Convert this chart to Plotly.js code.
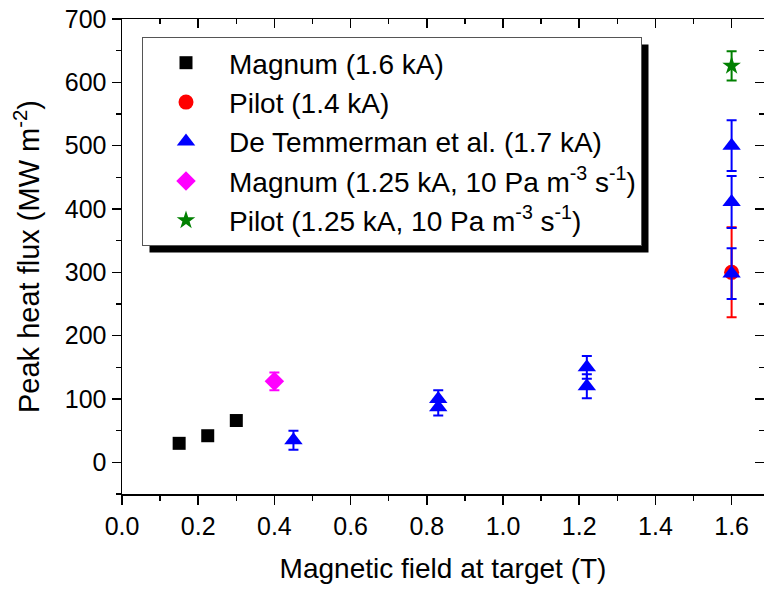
<!DOCTYPE html>
<html>
<head>
<meta charset="utf-8">
<script src="https://cdn.plot.ly/plotly-3.0.1.min.js"></script>
<style>html,body{margin:0;padding:0;background:#fff}#chart{width:764px;height:592px}</style>
</head>
<body>
<div id="chart"></div>
<script>
// Magnum (1.6 kA)
const magnumX = [0.15, 0.225, 0.30];
const magnumY = [30, 42, 66];
const magnumErr = [3, 3, 3];
// Pilot (1.4 kA)
const pilotX = [1.6];
const pilotY = [300];
const pilotErr = [71];
// De Temmerman et al. (1.7 kA)
const dtX = [0.45, 0.83, 0.83, 1.22, 1.22, 1.6, 1.6, 1.6];
const dtY = [35, 100, 87, 150, 120, 500, 411, 298];
const dtErr = [15, 14, 13, 18, 19, 40, 41, 40];
// Magnum (1.25 kA, 10 Pa m-3 s-1)
const magnum2X = [0.40];
const magnum2Y = [128];
const magnum2Err = [14];
// Pilot (1.25 kA, 10 Pa m-3 s-1)
const pilot2X = [1.6];
const pilot2Y = [626];
const pilot2Err = [23];

const names = [
  'Magnum (1.6 kA)',
  'Pilot (1.4 kA)',
  'De Temmerman et al. (1.7 kA)',
  'Magnum (1.25 kA, 10 Pa m<sup>-3</sup> s<sup>-1</sup>)',
  'Pilot (1.25 kA, 10 Pa m<sup>-3</sup> s<sup>-1</sup>)'
];

const FONT = 'Arial, "Liberation Sans", sans-serif';

function mk(x, y, err, name, color, symbol, size, group) {
  return {
    type: 'scatter', mode: 'markers', x: x, y: y, name: name,
    legendgroup: group,
    marker: {color: color, symbol: symbol, size: size, line: {width: 0}},
    error_y: {type: 'data', array: err, visible: true, color: color, thickness: 2, width: 5},
    hoverinfo: 'x+y'
  };
}

const data = [
  mk(magnumX, magnumY, magnumErr, names[0], '#000000', 'square', 13, 'g1'),
  mk(pilotX, pilotY, pilotErr, names[1], '#ff0000', 'circle', 15, 'g2'),
  mk(dtX, dtY, dtErr, names[2], '#0000ff', 'triangle-up', 16, 'g3'),
  mk(magnum2X, magnum2Y, magnum2Err, names[3], '#ff00ff', 'diamond', 15, 'g4'),
  mk(pilot2X, pilot2Y, pilot2Err, names[4], '#008000', 'star', 14, 'g5'),
  {type: 'scatter', mode: 'markers', x: [], y: [], xaxis: 'x2', yaxis: 'y2', showlegend: false, hoverinfo: 'skip'}
];

const L = 122, R = 0, T = 19, B = 98;
const W = 764, H = 592;
const pw = W - L - R, ph = H - T - B;
function px2x(p) { return (p - L) / pw; }
function py2y(p) { return (H - B - p) / ph; }

const axisCommon = {
  showline: true, linecolor: '#000', linewidth: 1.5, zeroline: false, showgrid: false,
  tickcolor: '#000', tickwidth: 1.5, ticklen: 9,
  tickfont: {family: FONT, size: 25, color: '#000'}
};

const layout = {
  width: W, height: H,
  margin: {l: L, r: R, t: T, b: B, pad: 0},
  paper_bgcolor: '#fff', plot_bgcolor: '#fff',
  font: {family: FONT, size: 25, color: '#000'},
  showlegend: true,
  xaxis: Object.assign({}, axisCommon, {
    range: [0, 1.685], dtick: 0.2, tick0: 0, tickformat: '.1f', ticks: 'outside',
    minor: {dtick: 0.1, ticks: 'outside', ticklen: 5, tickwidth: 1.5, tickcolor: '#000'},
    title: {text: 'Magnetic field at target (T)', font: {family: FONT, size: 28, color: '#000'}, standoff: 20}
  }),
  yaxis: Object.assign({}, axisCommon, {
    range: [-50, 700], dtick: 100, tick0: 0, ticks: 'outside',
    minor: {dtick: 50, ticks: 'outside', ticklen: 5, tickwidth: 1.5, tickcolor: '#000'},
    title: {text: 'Peak heat flux (MW m<sup>-2</sup>)', font: {family: FONT, size: 29, color: '#000'}, standoff: 16}
  }),
  xaxis2: Object.assign({}, axisCommon, {
    overlaying: 'x', side: 'top', anchor: 'y2', range: [0, 1.685], dtick: 0.2, tick0: 0,
    ticks: 'inside', showticklabels: false,
    minor: {dtick: 0.1, ticks: 'inside', ticklen: 5, tickwidth: 1.5, tickcolor: '#000'}
  }),
  yaxis2: Object.assign({}, axisCommon, {
    overlaying: 'y', side: 'right', anchor: 'x2', range: [-50, 700], dtick: 100, tick0: 0,
    ticks: 'inside', showticklabels: false,
    minor: {dtick: 50, ticks: 'inside', ticklen: 5, tickwidth: 1.5, tickcolor: '#000'}
  }),
  legend: {
    x: px2x(142), y: py2y(37), xanchor: 'left', yanchor: 'top',
    bgcolor: '#ffffff', bordercolor: '#555', borderwidth: 1,
    font: {family: FONT, size: 28, color: '#000'},
    itemwidth: 76, tracegroupgap: 0, traceorder: 'normal'
  },
  shapes: [
    {type: 'rect', xref: 'paper', yref: 'paper', x0: px2x(149), x1: px2x(673), y0: py2y(247), y1: py2y(48),
     fillcolor: '#000', line: {width: 0}, layer: 'above'}
  ]
};

Plotly.newPlot('chart', data, layout, {displayModeBar: false, staticPlot: true}).then(function (gd) {
  // align the drop shadow with the legend box actually drawn
  var bg = gd.querySelector('.legend .bg');
  if (!bg) return;
  var r = bg.getBoundingClientRect();
  var c = gd.getBoundingClientRect();
  var x0 = r.left - c.left, y0 = r.top - c.top, x1 = r.right - c.left, y1 = r.bottom - c.top;
  Plotly.relayout(gd, {
    'shapes[0].x0': px2x(x0 + 7), 'shapes[0].x1': px2x(x1 + 7),
    'shapes[0].y0': py2y(y1 + 7), 'shapes[0].y1': py2y(y0 + 7)
  });
});
</script>
</body>
</html>
